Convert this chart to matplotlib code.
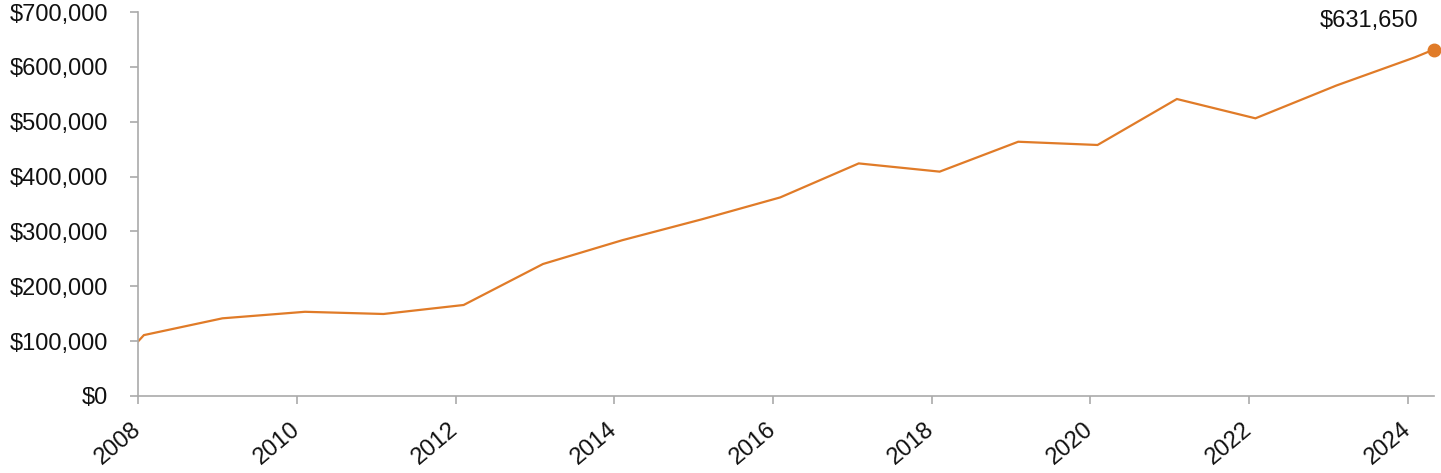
import matplotlib.pyplot as plt
from matplotlib.ticker import FuncFormatter

# ── Data ──────────────────────────────────────────────────────────────────────
years = [2008.0, 2008.07, 2009.06, 2010.1, 2011.09, 2012.1, 2013.1, 2014.1,
         2015.1, 2016.09, 2017.08, 2018.1, 2019.09, 2020.09, 2021.09,
         2022.08, 2023.1, 2024.09, 2024.33]
values = [100000, 111000, 141600, 153500, 149500, 165900, 240600, 284000,
          322000, 362000, 424000, 409000, 463500, 457600, 541400,
          506200, 566000, 617400, 631650]
xticks = list(range(2008, 2025, 2))
yticks = list(range(0, 700001, 100000))

color = '#e07b28'
axis_grey = '#aaaaaa'

plt.rcParams['font.family'] = ['Liberation Sans', 'DejaVu Sans']

fig = plt.figure(figsize=(14.41, 4.73), dpi=100)
ax = fig.add_axes([0.096, 0.1628, 0.8991, 0.8118])

ax.plot(years, values, color=color, lw=1.6, solid_joinstyle='miter')
ax.plot(years[-1], values[-1], 'o', color=color, ms=9, clip_on=False, zorder=5)
ax.annotate(f'${values[-1]:,}', (years[-1], values[-1]),
            xytext=(-11, 16), textcoords='offset points',
            ha='right', va='baseline', fontsize=17, color='#111111')

ax.set_xlim(2008, years[-1])
ax.set_ylim(0, 700000)
ax.set_xticks(xticks)
ax.set_yticks(yticks)
ax.yaxis.set_major_formatter(FuncFormatter(lambda v, p: f'${v:,.0f}'))
ax.set_xticklabels([str(y) for y in xticks], rotation=40, ha='right',
                   va='center', rotation_mode='anchor')

for s in ['top', 'right']:
    ax.spines[s].set_visible(False)
for s in ['left', 'bottom']:
    ax.spines[s].set_color(axis_grey)
    ax.spines[s].set_linewidth(1.2)
ax.tick_params(axis='both', colors=axis_grey, labelcolor='#111111',
               labelsize=17, length=6, width=1.2)
ax.tick_params(axis='y', pad=16)
ax.tick_params(axis='x', pad=16)

fig.savefig('out.png', dpi=100)
